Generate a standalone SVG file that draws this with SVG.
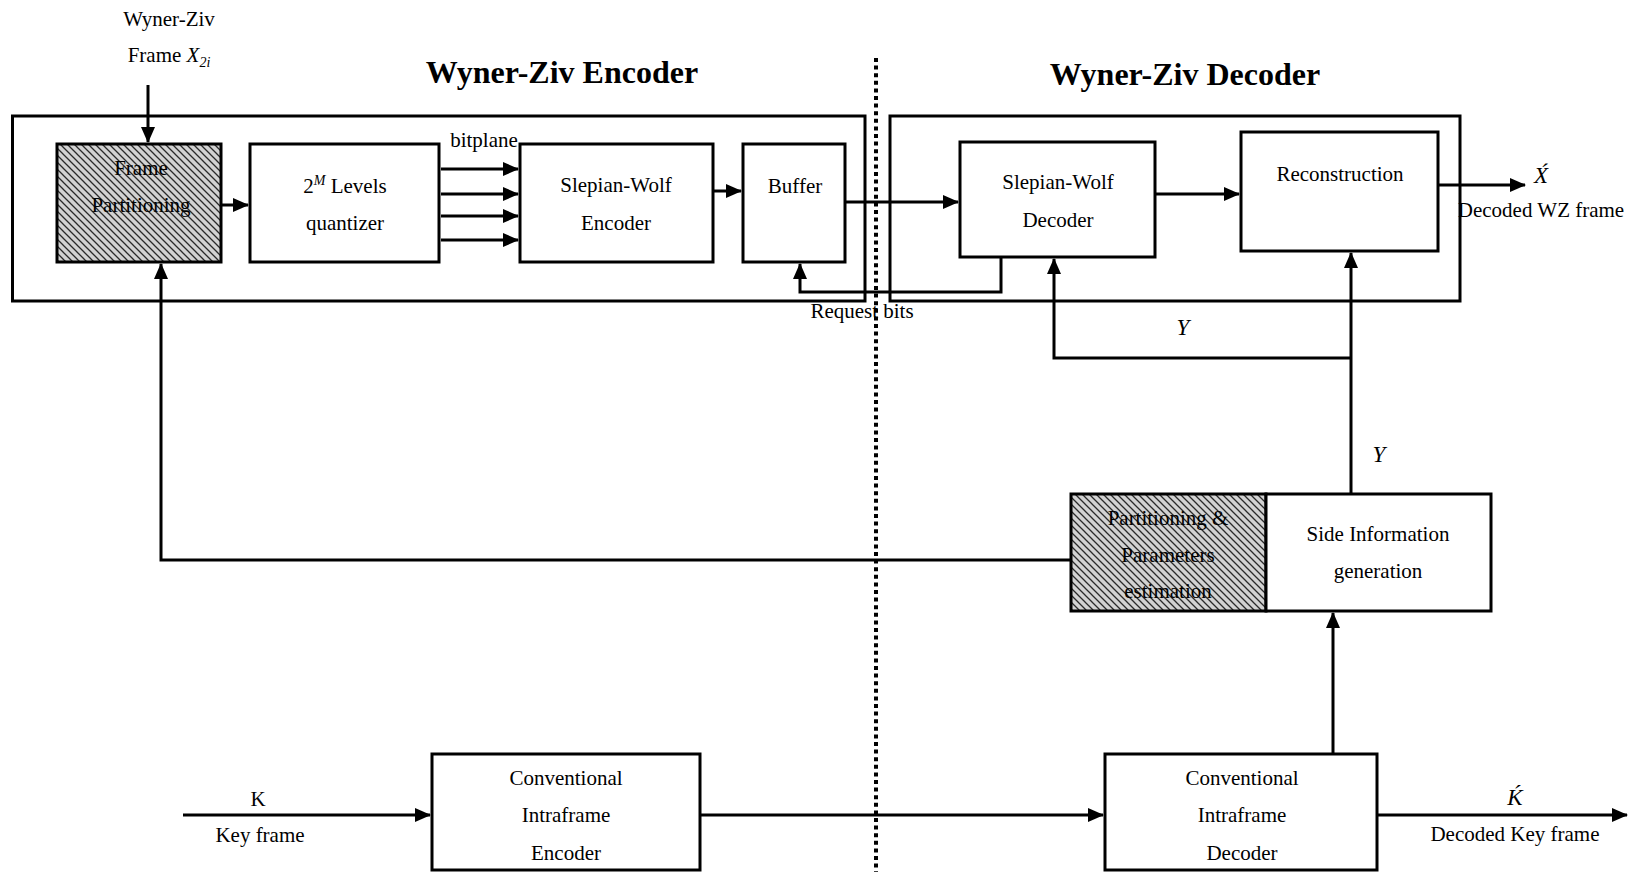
<svg xmlns="http://www.w3.org/2000/svg" width="1632" height="872" viewBox="0 0 1632 872">
<style>
  text { font-family: "Liberation Serif", "Times New Roman", serif; font-size: 21px; fill: #000; text-anchor: middle; }
  .title { font-size: 32px; font-weight: bold; }
  .it { font-style: italic; }
  .big { font-size: 23px; }
  .box { fill: #fff; stroke: #000; stroke-width: 3; }
  .hatch { fill: url(#hatch); stroke: #000; stroke-width: 3; }
  .outer { fill: none; stroke: #000; stroke-width: 3; }
  .arr { fill: none; stroke: #000; stroke-width: 3; marker-end: url(#ah); }
</style>
<defs>
  <marker id="ah" markerUnits="userSpaceOnUse" markerWidth="16" markerHeight="14" refX="15" refY="7" orient="auto">
    <path d="M0,0 L16,7 L0,14 z" fill="#000"/>
  </marker>
  <pattern id="hatch" patternUnits="userSpaceOnUse" width="7" height="7">
    <rect width="7" height="7" fill="#d2d2d2"/>
    <path d="M0,0 L7,7 M-1,6 L1,8 M6,-1 L8,1" stroke="#2a2a2a" stroke-width="1.3"/>
  </pattern>
</defs>
<rect width="1632" height="872" fill="#fff"/>

<!-- titles and free labels -->
<g id="labels">
  <text x="169" y="26">Wyner-Ziv</text>
  <text x="169" y="62">Frame <tspan class="it">X</tspan><tspan class="it" font-size="14" dy="5">2i</tspan></text>
  <text class="title" x="562" y="83">Wyner-Ziv Encoder</text>
  <text class="title" x="1185" y="85">Wyner-Ziv Decoder</text>
  <text x="484" y="147">bitplane</text>
  <text x="862" y="318">Request bits</text>
  <text class="it big" x="1183" y="335">Y</text>
  <text class="it big" x="1379" y="462">Y</text>
  <text class="it big" x="1541" y="183">X́</text>
  <text x="1541" y="217">Decoded WZ frame</text>
  <text x="258" y="806">K</text>
  <text x="260" y="842">Key frame</text>
  <text class="it big" x="1515" y="805">Ḱ</text>
  <text x="1515" y="841">Decoded Key frame</text>
</g>

<!-- separator -->
<line id="separator" x1="876" y1="58" x2="876" y2="872" stroke="#000" stroke-width="4" stroke-dasharray="4 3.6"/>

<!-- outer encoder / decoder frames -->
<g id="encoder-frame"><rect class="outer" x="12.5" y="116" width="852.5" height="185"/></g>
<g id="decoder-frame"><rect class="outer" x="890" y="116" width="570" height="185"/></g>

<g id="frame-partitioning">
  <rect class="hatch" x="57" y="144" width="164" height="118"/>
  <text x="141" y="175">Frame</text>
  <text x="141" y="212">Partitioning</text>
</g>
<g id="quantizer">
  <rect class="box" x="250" y="144" width="189" height="118"/>
  <text x="345" y="193">2<tspan class="it" font-size="14" dy="-8">M</tspan><tspan dy="8"> Levels</tspan></text>
  <text x="345" y="230">quantizer</text>
</g>
<g id="sw-encoder">
  <rect class="box" x="520" y="144" width="193" height="118"/>
  <text x="616" y="192">Slepian-Wolf</text>
  <text x="616" y="230">Encoder</text>
</g>
<g id="buffer">
  <rect class="box" x="743" y="144" width="102" height="118"/>
  <text x="795" y="193">Buffer</text>
</g>
<g id="sw-decoder">
  <rect class="box" x="960" y="142" width="195" height="115"/>
  <text x="1058" y="189">Slepian-Wolf</text>
  <text x="1058" y="227">Decoder</text>
</g>
<g id="reconstruction">
  <rect class="box" x="1241" y="132" width="197" height="119"/>
  <text x="1340" y="181">Reconstruction</text>
</g>
<g id="partitioning-params">
  <rect class="hatch" x="1071" y="494" width="195" height="117"/>
  <text x="1168" y="525">Partitioning &amp;</text>
  <text x="1168" y="562">Parameters</text>
  <text x="1168" y="598">estimation</text>
</g>
<g id="side-info">
  <rect class="box" x="1266" y="494" width="225" height="117"/>
  <text x="1378" y="541">Side Information</text>
  <text x="1378" y="578">generation</text>
</g>
<g id="intra-encoder">
  <rect class="box" x="432" y="754" width="268" height="116"/>
  <text x="566" y="785">Conventional</text>
  <text x="566" y="822">Intraframe</text>
  <text x="566" y="860">Encoder</text>
</g>
<g id="intra-decoder">
  <rect class="box" x="1105" y="754" width="272" height="116"/>
  <text x="1242" y="785">Conventional</text>
  <text x="1242" y="822">Intraframe</text>
  <text x="1242" y="860">Decoder</text>
</g>

<g id="connectors">
  <line class="arr" x1="148" y1="85" x2="148" y2="142"/>
  <line class="arr" x1="221" y1="205" x2="248" y2="205"/>
  <line class="arr" x1="441" y1="169" x2="518" y2="169"/>
  <line class="arr" x1="441" y1="194" x2="518" y2="194"/>
  <line class="arr" x1="441" y1="216" x2="518" y2="216"/>
  <line class="arr" x1="441" y1="240" x2="518" y2="240"/>
  <line class="arr" x1="713" y1="191" x2="741" y2="191"/>
  <line class="arr" x1="845" y1="202" x2="958" y2="202"/>
  <path class="arr" d="M1001,257 L1001,292 L800,292 L800,264"/>
  <line class="arr" x1="1155" y1="194" x2="1239" y2="194"/>
  <line class="arr" x1="1438" y1="185" x2="1525" y2="185"/>
  <line class="arr" x1="1351" y1="494" x2="1351" y2="253"/>
  <path class="arr" d="M1351,358 L1054,358 L1054,259"/>
  <path class="arr" d="M1071,560 L161,560 L161,264"/>
  <line class="arr" x1="1333" y1="754" x2="1333" y2="613"/>
  <line class="arr" x1="183" y1="815" x2="430" y2="815"/>
  <line class="arr" x1="700" y1="815" x2="1103" y2="815"/>
  <line class="arr" x1="1377" y1="815" x2="1627" y2="815"/>
</g>
</svg>
